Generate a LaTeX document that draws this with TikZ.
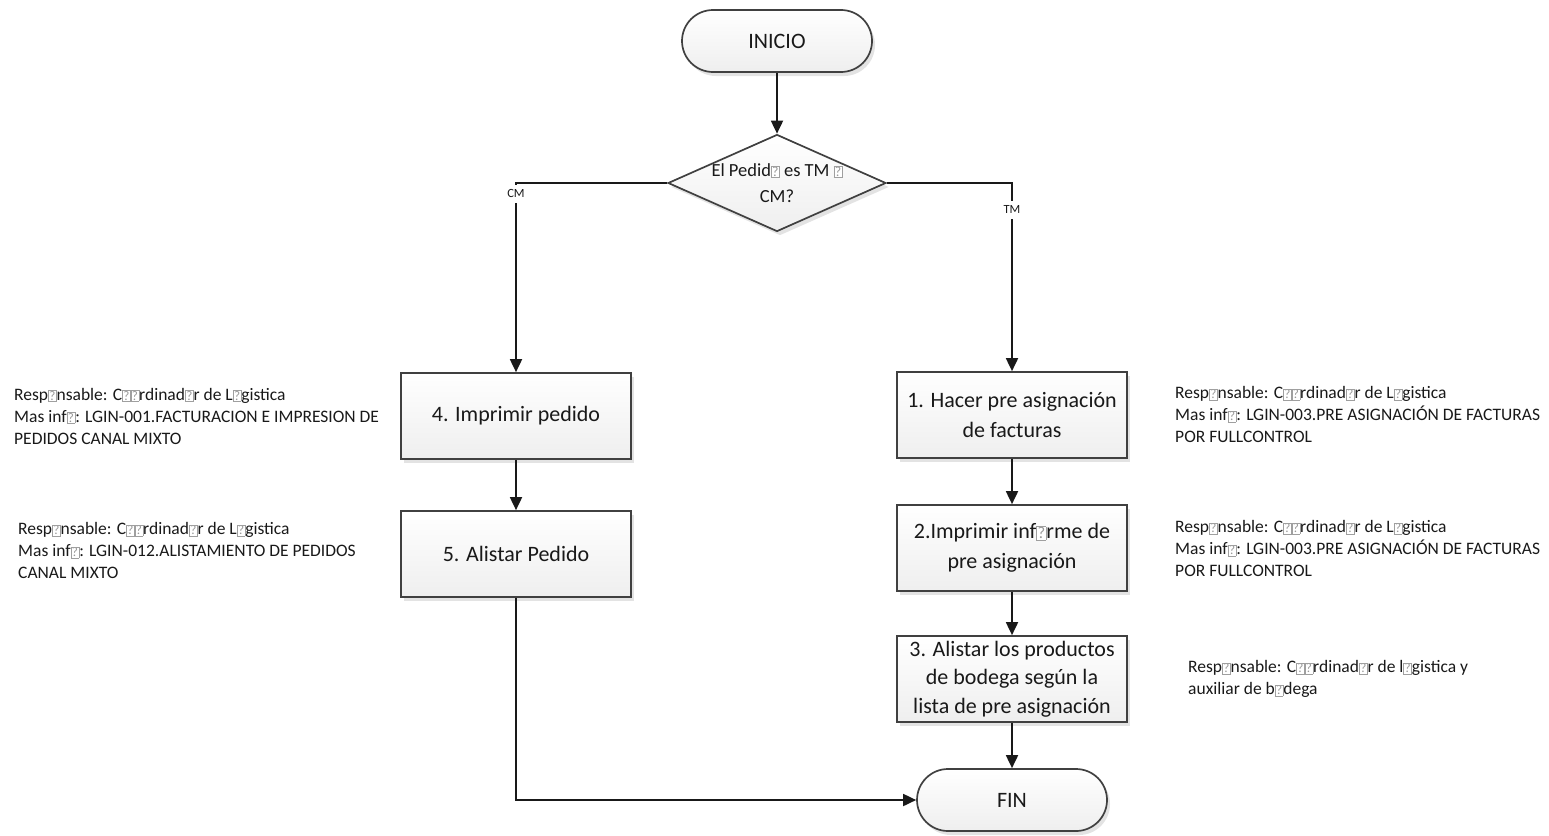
\documentclass[tikz,border=0pt]{standalone}
\usepackage{fontspec}
\setmainfont{Carlito}
\usetikzlibrary{shapes.geometric,arrows.meta,shadows}

% glyph that the source font could not show: a small framed question mark
\newcommand\nog{\begingroup\setlength\fboxsep{0.7pt}\setlength\fboxrule{0.5pt}%
  \fcolorbox{gray!75}{white}{\color{gray!80}\scalebox{0.75}{?}}\endgroup}

\tikzset{
  boxshade/.style={top color=white, bottom color=gray!13,
    drop shadow={shadow xshift=3pt, shadow yshift=-4pt, opacity=0.22, fill=gray}},
  proc/.style={draw=black!75, line width=1.7pt, boxshade,
    minimum width=230pt, minimum height=86pt, inner sep=0pt,
    align=center, text=black!90, font=\fontsize{22}{30}\selectfont},
  term/.style={draw=black!75, line width=1.7pt, boxshade,
    rounded corners=31pt, minimum width=190pt, minimum height=62pt,
    text=black!90, font=\fontsize{22}{26}\selectfont},
  decision/.style={diamond, draw=black!75, line width=1.7pt, boxshade,
    minimum width=218pt, minimum height=97pt, inner sep=-14pt, aspect=2.25,
    align=center, text=black!90, font=\fontsize{18.5}{26}\selectfont},
  note/.style={anchor=north west, align=left, inner sep=0pt,
    text=black!90, font=\fontsize{17.5}{22}\selectfont},
  branch/.style={fill=white, inner sep=1pt, minimum height=18pt,
    text=black!90, font=\fontsize{12.5}{13}\selectfont},
  flow/.style={line width=1.8pt, black!90, -{Triangle[length=13pt,width=12pt]}},
}

\begin{document}
\begin{tikzpicture}[x=1pt, y=-1pt]
  \useasboundingbox (0,0) rectangle (1549,835);

  % main flow
  \node[term] (ini) at (777,41) {INICIO};
  \node[decision] (dec) at (777,183) {El Pedid\nog{} es TM \nog\\CM?};

  \node[proc] (p4) at (516,416) {4. Imprimir pedido};
  \node[proc] (p5) at (516,554) {5. Alistar Pedido};

  \node[proc] (p1) at (1012,415) {1. Hacer pre asignación\\de facturas};
  \node[proc] (p2) at (1012,548) {2.Imprimir inf\nog rme de\\pre asignación};
  \node[proc, font=\fontsize{22}{28.5}\selectfont] (p3) at (1012,679)
    {3. Alistar los productos\\de bodega según la\\lista de pre asignación};

  \node[term] (fin) at (1012,800) {FIN};

  % connectors
  \draw[flow] (ini) -- (dec);
  \draw[flow] (dec.west) -| node[branch, pos=0.529] (cm) {CM} (p4.north);
  \draw[flow] (dec.east) -| node[branch, pos=0.571] (tm) {TM} (p1.north);
  \draw[flow] (p4) -- (p5);
  \draw[flow] (p1) -- (p2);
  \draw[flow] (p2) -- (p3);
  \draw[flow] (p3) -- (fin);
  \draw[flow] (p5.south) |- (fin.west);

  % responsibility notes
  \node[note] (n4) at (14,388) {Resp\nog nsable: C\nog\nog rdinad\nog r de L\nog gistica\\
    Mas inf\nog: LGIN-001.FACTURACION E IMPRESION DE\\PEDIDOS CANAL MIXTO};
  \node[note] (n5) at (18,522.5) {Resp\nog nsable: C\nog\nog rdinad\nog r de L\nog gistica\\
    Mas inf\nog: LGIN-012.ALISTAMIENTO DE PEDIDOS\\CANAL MIXTO};
  \node[note] (n1) at (1175,386.5) {Resp\nog nsable: C\nog\nog rdinad\nog r de L\nog gistica\\
    Mas inf\nog: LGIN-003.PRE ASIGNACIÓN DE FACTURAS\\POR FULLCONTROL};
  \node[note] (n2) at (1175,520.5) {Resp\nog nsable: C\nog\nog rdinad\nog r de L\nog gistica\\
    Mas inf\nog: LGIN-003.PRE ASIGNACIÓN DE FACTURAS\\POR FULLCONTROL};
  \node[note] (n3) at (1188,660.5) {Resp\nog nsable: C\nog\nog rdinad\nog r de l\nog gistica y\\
    auxiliar de b\nog dega};
\end{tikzpicture}
\end{document}
